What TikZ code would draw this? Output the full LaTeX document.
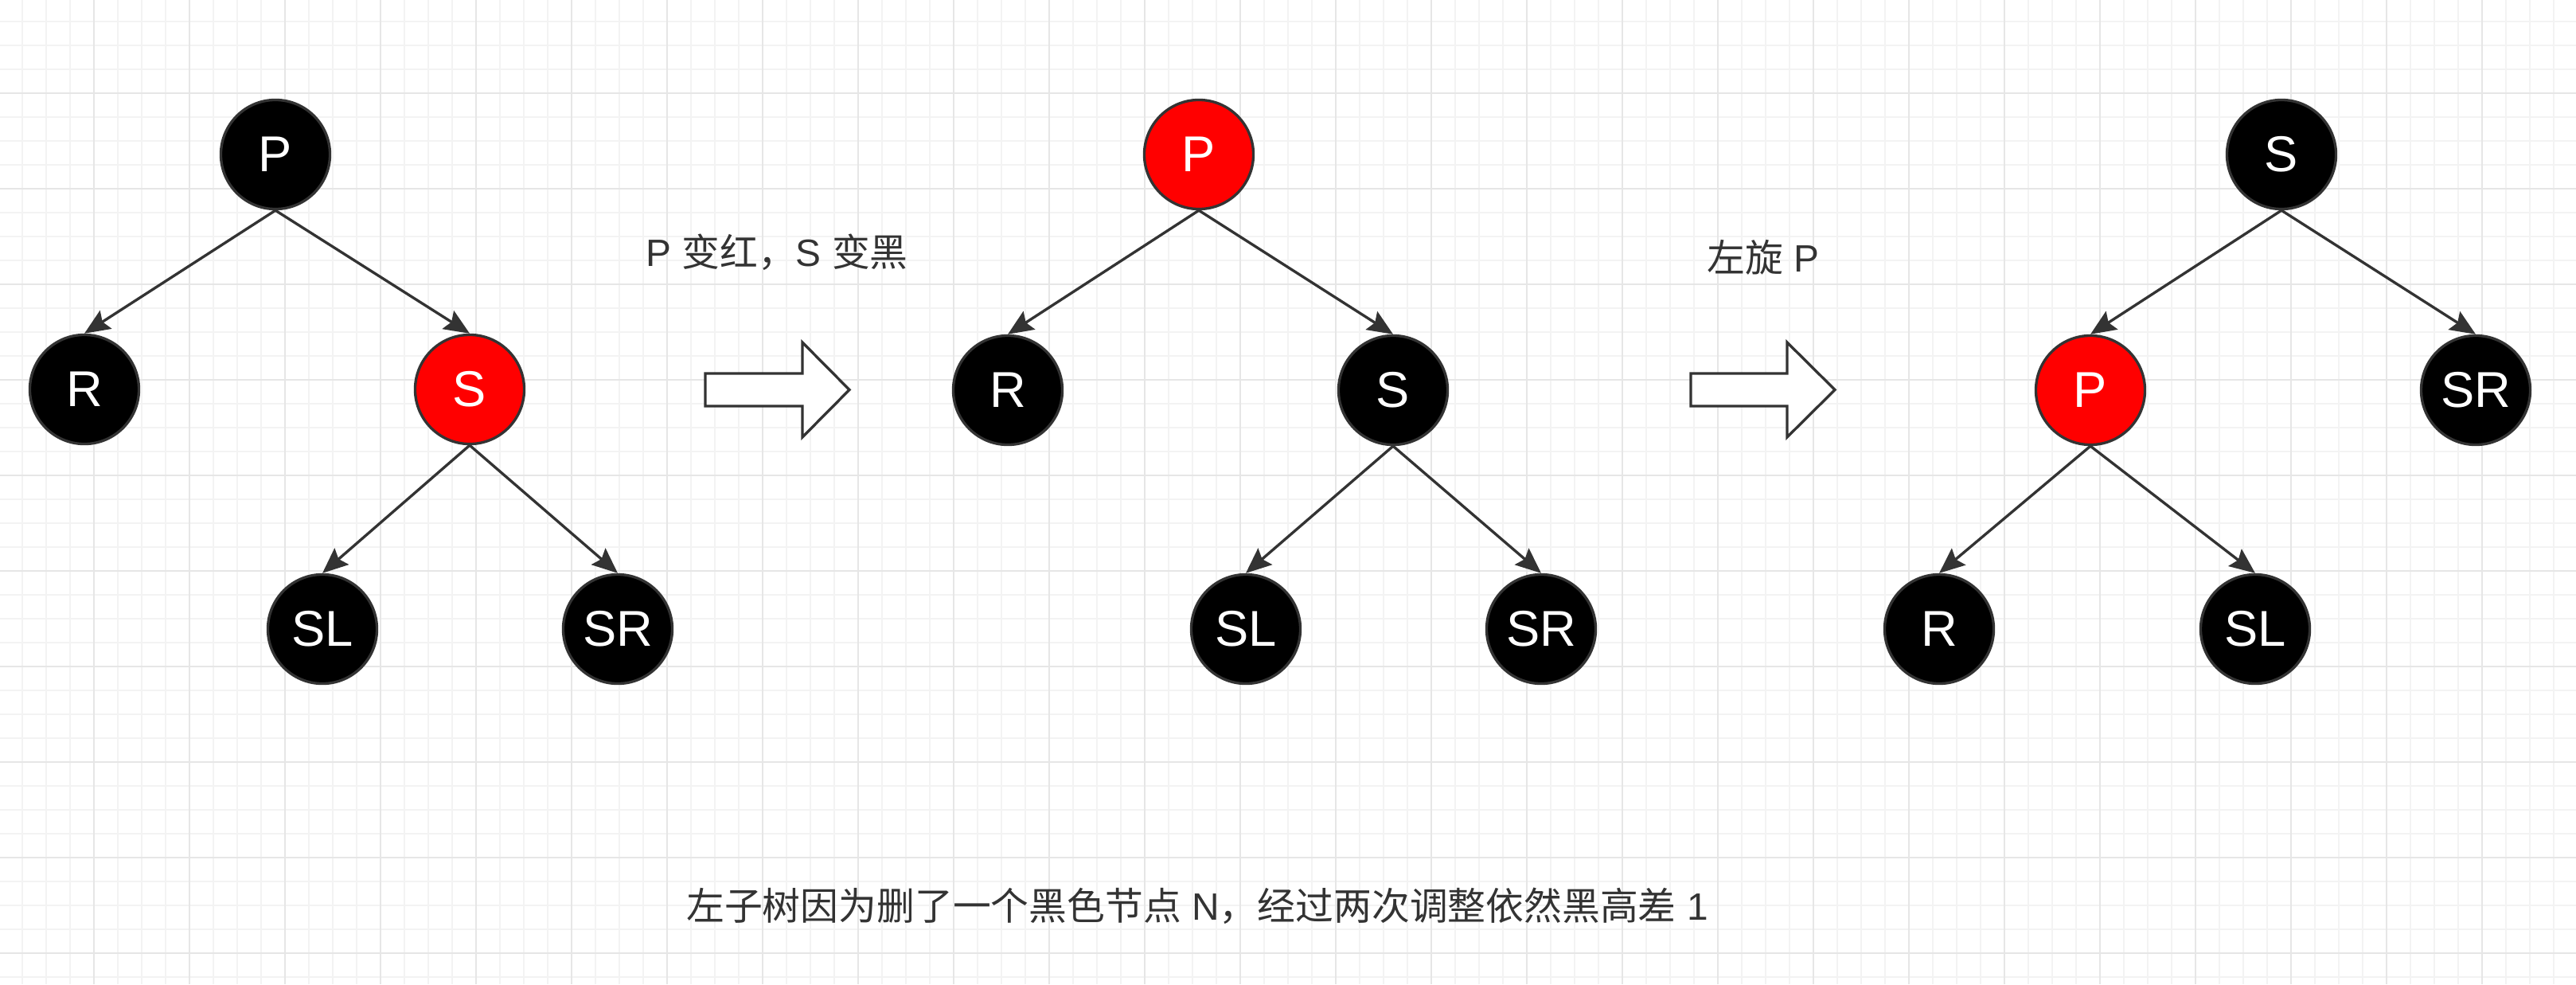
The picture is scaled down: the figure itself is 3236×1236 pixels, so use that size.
\documentclass[tikz,border=0pt]{standalone}
\usepackage{fontspec}
\setmainfont{Liberation Sans}
\newfontfamily\cjk{Noto Sans CJK SC}
\usetikzlibrary{arrows.meta}
\definecolor{strokec}{HTML}{333333}
\definecolor{minorc}{HTML}{F3F3F3}
\definecolor{majorc}{HTML}{E6E6E6}
\definecolor{nred}{HTML}{FF0000}
\begin{document}
\begin{tikzpicture}[x=0.01cm,y=-0.01cm,
  rbnode/.style={circle, draw=strokec, line width=0.95pt, minimum size=1.37cm, inner sep=0pt, text=white, font=\fontsize{18}{20}\selectfont},
  blknode/.style={rbnode, fill=black},
  rednode/.style={rbnode, fill=nred},
  link/.style={draw=strokec, line width=0.95pt, -{Stealth[length=0.32cm,width=0.27cm,inset=0.05cm]}},
  blockarrow/.style={draw=strokec, fill=white, line width=0.95pt, line join=miter},
  lbl/.style={text=strokec, font=\fontsize{13.6}{16}\selectfont, inner sep=0pt, anchor=base},
  minorgrid/.style={draw=minorc, line width=0.35pt},
  majorgrid/.style={draw=majorc, line width=0.55pt}
]
\fill[white] (0,0) rectangle (3236,1236);
\useasboundingbox (0,0) rectangle (3236,1236);
% grid
\foreach \i in {1,...,108} { \draw[minorgrid] ({-2+30*\i},0) -- ({-2+30*\i},1236); }
\foreach \i in {1,...,41} { \draw[minorgrid] (0,{-3+30*\i}) -- (3236,{-3+30*\i}); }
\foreach \i in {1,...,26} { \draw[majorgrid] ({-2+120*\i},0) -- ({-2+120*\i},1236); }
\foreach \i in {1,...,10} { \draw[majorgrid] (0,{-3+120*\i}) -- (3236,{-3+120*\i}); }

% tree 1
\node[blknode] (p1) at (346,194) {P};
\node[blknode] (r1) at (106,489) {R};
\node[rednode] (s1) at (590,489) {S};
\node[blknode] (sl1) at (405,790) {SL};
\node[blknode] (sr1) at (776,790) {SR};
\draw[link] (p1.south) -- (r1.north);
\draw[link] (p1.south) -- (s1.north);
\draw[link] (s1.south) -- (sl1.north);
\draw[link] (s1.south) -- (sr1.north);

% tree 2
\node[rednode] (p2) at (1506,194) {P};
\node[blknode] (r2) at (1266,490) {R};
\node[blknode] (s2) at (1750,490) {S};
\node[blknode] (sl2) at (1565,790) {SL};
\node[blknode] (sr2) at (1936,790) {SR};
\draw[link] (p2.south) -- (r2.north);
\draw[link] (p2.south) -- (s2.north);
\draw[link] (s2.south) -- (sl2.north);
\draw[link] (s2.south) -- (sr2.north);

% tree 3
\node[blknode] (s3) at (2866,194) {S};
\node[rednode] (p3) at (2626,490) {P};
\node[blknode] (sr3) at (3110,490) {SR};
\node[blknode] (r3) at (2436,790) {R};
\node[blknode] (sl3) at (2833,790) {SL};
\draw[link] (s3.south) -- (p3.north);
\draw[link] (s3.south) -- (sr3.north);
\draw[link] (p3.south) -- (r3.north);
\draw[link] (p3.south) -- (sl3.north);

% block arrows
\draw[blockarrow] (886,469) -- (1008,469) -- (1008,430) -- (1067,489.5) -- (1008,549) -- (1008,510) -- (886,510) -- cycle;
\draw[blockarrow] (2124,469) -- (2245,469) -- (2245,430) -- (2305,489.5) -- (2245,549) -- (2245,510) -- (2124,510) -- cycle;

% labels
\node[lbl] (t1) at (976,334) {P\ {\cjk 变红，}S\ {\cjk 变黑}};
\node[lbl] (t2) at (2215,341) {{\cjk 左旋}\ P};
\node[lbl] (t3) at (1504,1155) {{\cjk 左子树因为删了一个黑色节点}\ N{\cjk ，经过两次调整依然黑高差}\ 1};
\end{tikzpicture}
\end{document}
